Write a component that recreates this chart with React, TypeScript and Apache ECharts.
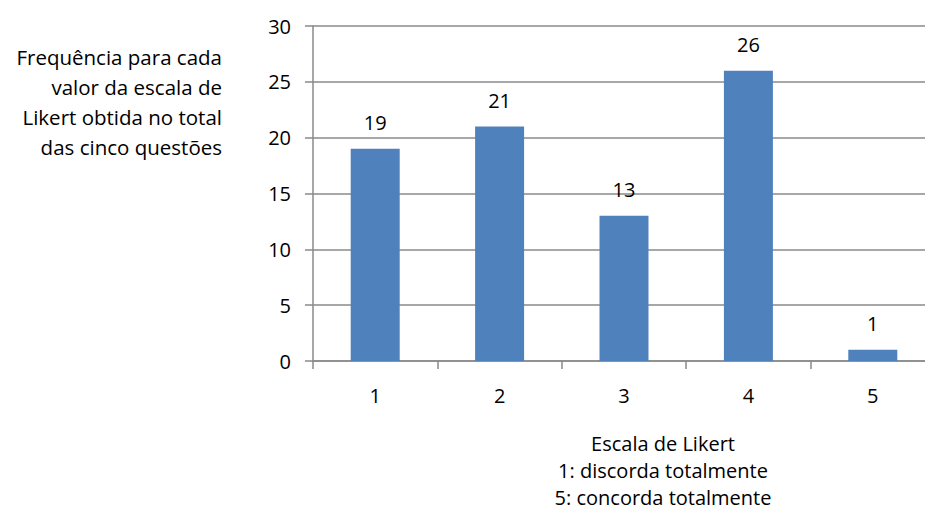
import React, { useEffect, useRef } from "react";
import * as echarts from "echarts";

const categories = ["1", "2", "3", "4", "5"];
const frequencies = [19, 21, 13, 26, 1];
const yTitleLines = [
  "Frequência para cada",
  "valor da escala de",
  "Likert obtida no total",
  "das cinco questões",
];
const xTitleLines = [
  "Escala de Likert",
  "1: discorda totalmente",
  "5: concorda totalmente",
];

const FONT = "'Open Sans', Lato, sans-serif";
const GRAY = "#8a8a8a";

export default function App() {
  const ref = useRef<HTMLDivElement>(null);
  useEffect(() => {
    if (!ref.current) return;
    const chart = echarts.init(ref.current, null, { renderer: "svg" });
    const graphics: any[] = [];
    yTitleLines.forEach((t, i) => {
      graphics.push({
        type: "text",
        x: 222,
        y: 57 + i * 30,
        style: {
          text: t,
          font: `20.5px ${FONT}`,
          fill: "#000",
          align: "right",
          verticalAlign: "middle",
        },
      });
    });
    xTitleLines.forEach((t, i) => {
      graphics.push({
        type: "text",
        x: 663,
        y: 443 + i * 27,
        style: {
          text: t,
          font: `20px ${FONT}`,
          fill: "#000",
          align: "center",
          verticalAlign: "middle",
        },
      });
    });
    chart.setOption({
      animation: false,
      backgroundColor: "#ffffff",
      textStyle: { fontFamily: FONT },
      grid: { left: 313, top: 26, right: 0, height: 335, containLabel: false },
      xAxis: {
        type: "category",
        data: categories,
        axisLine: { show: true, lineStyle: { color: GRAY, width: 1.5 } },
        axisTick: { show: true, length: 8, lineStyle: { color: GRAY, width: 1.5 } },
        axisLabel: { color: "#000", fontSize: 20, margin: 24, fontFamily: FONT },
        splitLine: { show: false },
      },
      yAxis: {
        type: "value",
        min: 0,
        max: 30,
        interval: 5,
        axisLine: { show: true, lineStyle: { color: GRAY, width: 1.5 } },
        axisTick: { show: true, inside: false, length: 8, lineStyle: { color: GRAY, width: 1.5 } },
        axisLabel: { color: "#000", fontSize: 20, margin: 22, fontFamily: FONT },
        splitLine: { show: true, lineStyle: { color: GRAY, width: 1.5 } },
      },
      series: [
        {
          type: "bar",
          data: frequencies,
          barWidth: 49,
          itemStyle: { color: "#4F81BD" },
          label: {
            show: true,
            position: "top",
            distance: 16,
            color: "#000",
            fontSize: 20,
            fontFamily: FONT,
          },
        },
      ],
      graphic: graphics,
    });
    return () => chart.dispose();
  }, []);
  return (
    <div
      ref={ref}
      style={{ position: "fixed", left: 0, top: 0, width: 935, height: 514, overflow: "hidden" }}
    />
  );
}
